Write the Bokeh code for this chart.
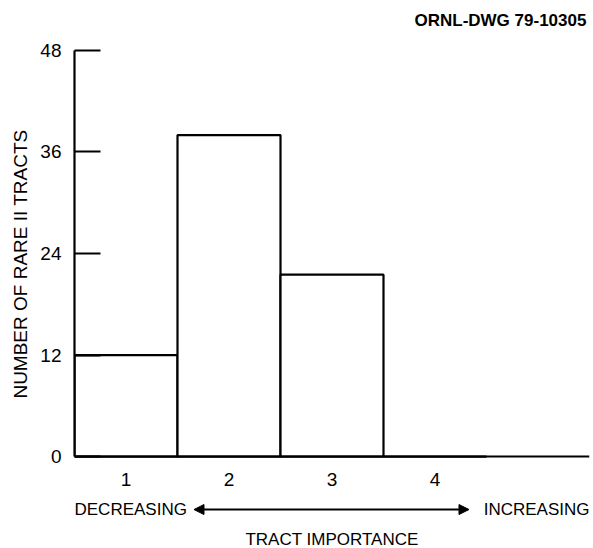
from bokeh.plotting import figure
from bokeh.models import Range1d, FixedTicker, Label, Arrow, NormalHead, Title
from bokeh.embed import file_html
from bokeh.resources import INLINE

# ---- data ----
categories = [1, 2, 3, 4]
tract_counts = [12, 38, 21.5, 0]
y_ticks = [0, 12, 24, 36, 48]
x_tick_labels = ["1", "2", "3", "4"]
drawing_id = "ORNL-DWG 79-10305"
y_title = "NUMBER OF RARE II TRACTS"
x_title = "TRACT IMPORTANCE"
left_word = "DECREASING"
right_word = "INCREASING"

FONT = "Liberation Sans"
PX = 407.0 / 48.0          # pixels per count unit
FRAME_BOTTOM = 528         # pixel row where plotting frame ends
Y_TOP = 48 + 50 / PX
Y_BOT = -(FRAME_BOTTOM - 457) / PX

p = figure(width=593, height=548, output_backend="svg", toolbar_location=None,
           x_range=Range1d(0.5, 5.5), y_range=Range1d(Y_BOT, Y_TOP),
           min_border_left=74, min_border_right=4, min_border_top=0,
           min_border_bottom=548 - FRAME_BOTTOM)
p.background_fill_color = "white"
p.border_fill_color = "white"
p.outline_line_color = None
p.grid.visible = False

p.vbar(x=categories, top=tract_counts, width=1.0, bottom=0,
       fill_color="white", line_color="black", line_width=2.2)

# y axis
ya = p.yaxis[0]
ya.bounds = (0, 48)
ya.ticker = FixedTicker(ticks=y_ticks)
ya.major_tick_in = 26
ya.major_tick_out = 0
ya.minor_tick_line_color = None
ya.axis_line_width = 2.2
ya.major_tick_line_width = 2
ya.major_label_standoff = 13
ya.major_label_text_font = FONT
ya.major_label_text_font_size = "19px"
ya.major_label_text_color = "black"
ya.axis_label = y_title
ya.axis_label_text_font = FONT
ya.axis_label_text_font_size = "19px"
ya.axis_label_text_font_style = "normal"
ya.axis_label_text_color = "black"
ya.axis_label_standoff = 6

# x axis, drawn at count 0
xa = p.xaxis[0]
xa.fixed_location = 0
xa.ticker = FixedTicker(ticks=categories)
xa.major_label_overrides = {c: t for c, t in zip(categories, x_tick_labels)}
xa.major_tick_in = 0
xa.major_tick_out = 0
xa.minor_tick_line_color = None
xa.axis_line_width = 2.2
xa.major_label_standoff = 16
xa.major_label_text_font = FONT
xa.major_label_text_font_size = "19px"
xa.major_label_text_color = "black"

# x title below
p.add_layout(Title(text=x_title, align="center", text_font=FONT,
                   text_font_size="17px", text_font_style="normal",
                   text_color="black", standoff=0, offset=0), "below")

# arrow with words
y_arrow = -(510 - 457) / PX
p.add_layout(Label(x=0.5, y=y_arrow, text=left_word, text_align="left",
                   text_baseline="middle", text_font=FONT,
                   text_font_size="17px", text_color="black"))
p.add_layout(Label(x=5.5, y=y_arrow, text=right_word, text_align="right",
                   text_baseline="middle", text_font=FONT,
                   text_font_size="17px", text_color="black"))
p.add_layout(Arrow(x_start=1.66, y_start=y_arrow, x_end=4.33, y_end=y_arrow,
                   line_width=2, line_color="black",
                   start=NormalHead(size=10, fill_color="black", line_color="black"),
                   end=NormalHead(size=10, fill_color="black", line_color="black")))

# drawing id
p.add_layout(Label(x=5.47, y=48 + (50 - 20.5) / PX, text=drawing_id,
                   text_align="right", text_baseline="middle", text_font=FONT,
                   text_font_size="17px", text_font_style="bold",
                   text_color="black"))

open("out.html", "w").write(file_html(p, INLINE))
